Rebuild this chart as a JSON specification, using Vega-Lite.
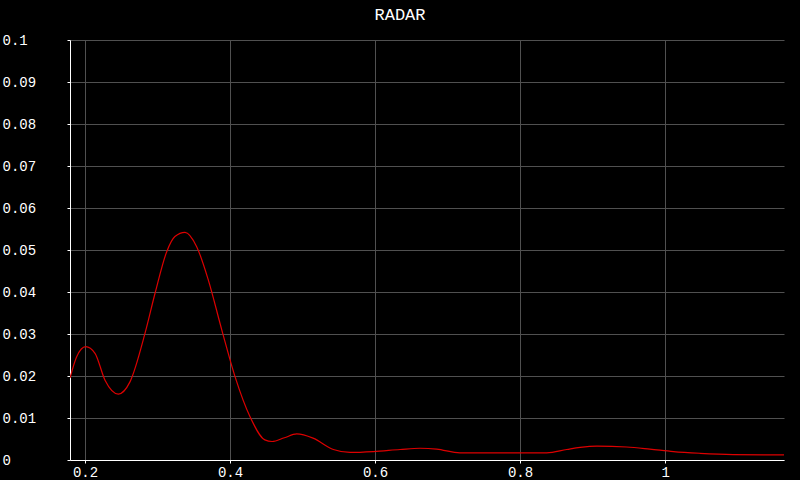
{
  "$schema": "https://vega.github.io/schema/vega-lite/v6.json",
  "width": 714,
  "height": 420,
  "autosize": {"type": "none"},
  "padding": {"left": 70, "top": 40, "right": 16, "bottom": 20},
  "background": "black",
  "config": {"view": {"stroke": null}},
  "title": {
    "text": "RADAR",
    "color": "white",
    "font": "Liberation Mono",
    "fontSize": 17,
    "fontWeight": "normal",
    "dx": -27,
    "offset": 9
  },
  "data": {
    "values": [
      {"x": 0.1793, "y": 0.0195},
      {"x": 0.1885, "y": 0.0246},
      {"x": 0.201, "y": 0.027},
      {"x": 0.2138, "y": 0.0254},
      {"x": 0.2276, "y": 0.019},
      {"x": 0.246, "y": 0.0157},
      {"x": 0.262, "y": 0.0186},
      {"x": 0.2828, "y": 0.0302},
      {"x": 0.2966, "y": 0.0397},
      {"x": 0.3127, "y": 0.0496},
      {"x": 0.324, "y": 0.0532},
      {"x": 0.3379, "y": 0.0542},
      {"x": 0.354, "y": 0.0508},
      {"x": 0.37, "y": 0.0429},
      {"x": 0.3886, "y": 0.031},
      {"x": 0.407, "y": 0.0198},
      {"x": 0.4276, "y": 0.0103},
      {"x": 0.448, "y": 0.0048},
      {"x": 0.458, "y": 0.0044},
      {"x": 0.475, "y": 0.0053},
      {"x": 0.492, "y": 0.0062},
      {"x": 0.5145, "y": 0.0052},
      {"x": 0.5425, "y": 0.0025},
      {"x": 0.5655, "y": 0.0018},
      {"x": 0.5977, "y": 0.002},
      {"x": 0.6345, "y": 0.0025},
      {"x": 0.662, "y": 0.0028},
      {"x": 0.685, "y": 0.0026},
      {"x": 0.717, "y": 0.0017},
      {"x": 0.8, "y": 0.0017},
      {"x": 0.8368, "y": 0.0017},
      {"x": 0.8644, "y": 0.0025},
      {"x": 0.8828, "y": 0.003},
      {"x": 0.906, "y": 0.0033},
      {"x": 0.947, "y": 0.0031},
      {"x": 0.979, "y": 0.0026},
      {"x": 1.0115, "y": 0.002},
      {"x": 1.048, "y": 0.0016},
      {"x": 1.094, "y": 0.0013},
      {"x": 1.164, "y": 0.0012}
    ]
  },
  "mark": {"type": "line", "color": "#dd0000", "strokeWidth": 1.2, "interpolate": "monotone", "clip": true},
  "encoding": {
    "x": {
      "field": "x",
      "type": "quantitative",
      "scale": {"domain": [0.1793, 1.164], "nice": false, "zero": false},
      "axis": {
        "title": null,
        "values": [0.2, 0.4, 0.6, 0.8, 1],
        "format": "~g",
        "domainColor": "white",
        "gridColor": "#505050",
        "tickColor": "white",
        "tickSize": 3,
        "labelColor": "white",
        "labelFont": "Liberation Mono",
        "labelFontSize": 14,
        "labelPadding": 2,
        "labelFlush": false
      }
    },
    "y": {
      "field": "y",
      "type": "quantitative",
      "scale": {"domain": [0, 0.1], "nice": false},
      "axis": {
        "title": null,
        "values": [0, 0.01, 0.02, 0.03, 0.04, 0.05, 0.06, 0.07, 0.08, 0.09, 0.1],
        "format": "~g",
        "domainColor": "white",
        "gridColor": "#505050",
        "tickColor": "white",
        "tickSize": 3,
        "labelColor": "white",
        "labelFont": "Liberation Mono",
        "labelFontSize": 14,
        "labelAlign": "left",
        "labelPadding": 65,
        "labelFlush": false
      }
    }
  }
}
